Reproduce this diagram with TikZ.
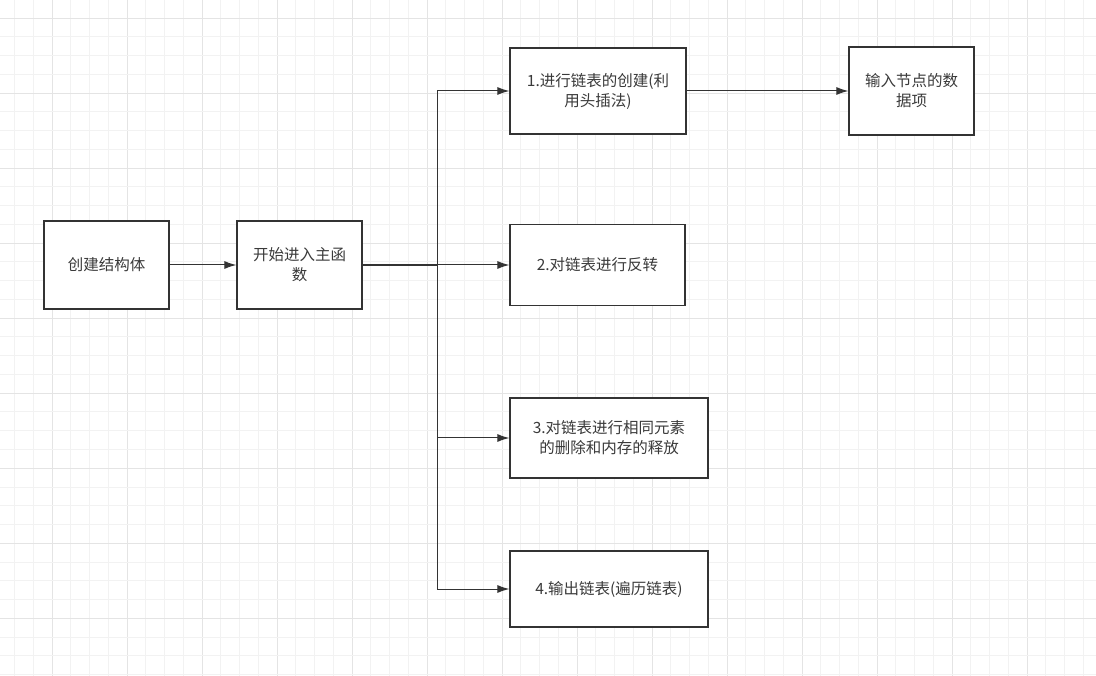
\documentclass[tikz,border=0pt]{standalone}
\usepackage{fontspec}
\setmainfont{Noto Sans CJK SC}
\usetikzlibrary{arrows.meta,positioning}
\definecolor{ink}{HTML}{333333}
\definecolor{txt}{HTML}{3A3A3A}
\definecolor{gminor}{HTML}{F2F2F2}
\definecolor{gmajor}{HTML}{E4E4E4}

\begin{document}
\begin{tikzpicture}[
  x=1pt, y=-1pt, >={Latex[length=12pt,width=8pt]},
  box/.style={draw=ink, line width=1.2pt, fill=white, align=center, text=txt,
    font=\fontsize{15.5}{20}\selectfont, inner sep=2pt},
  e/.style={->, line width=1pt, draw=ink}
]
\useasboundingbox (0,0) rectangle (1096,676);
% grid
\foreach \i in {0,...,58} {
  \pgfmathsetmacro{\gx}{14.5+18.75*\i}
  \pgfmathtruncatemacro{\gm}{mod(\i+2,4)}
  \ifnum\gm=0 \draw[gmajor, line width=1pt] (\gx,0) -- (\gx,676);
  \else \draw[gminor, line width=1pt] (\gx,0) -- (\gx,676); \fi
}
\foreach \j in {0,...,35} {
  \pgfmathsetmacro{\gy}{18.25+18.75*\j}
  \pgfmathtruncatemacro{\gm}{mod(\j,4)}
  \ifnum\gm=0 \draw[gmajor, line width=1pt] (0,\gy) -- (1096,\gy);
  \else \draw[gminor, line width=1pt] (0,\gy) -- (1096,\gy); \fi
}
% nodes
\node[box, minimum width=125pt, minimum height=88pt] (st) at (106.5,265) {创建结构体};
\node[box, minimum width=125pt, minimum height=88pt] (mn) at (299.5,265) {开始进入主函\\数};
\node[box, minimum width=176pt, minimum height=86pt] (cr) at (598,91) {1.进行链表的创建(利\\用头插法)};
\node[box, minimum width=125pt, minimum height=88pt] (in) at (911.5,91) {输入节点的数\\据项};
\node[box, minimum width=175pt, minimum height=81pt] (rv) at (597.5,265) {2.对链表进行反转};
\node[box, minimum width=198pt, minimum height=80pt] (dl) at (609,438) {3.对链表进行相同元素\\的删除和内存的释放};
\node[box, minimum width=198pt, minimum height=76pt] (pr) at (609,589) {4.输出链表(遍历链表)};
\coordinate (j) at (437,265);
% edges
\draw[e] (st) -- (mn);
\draw[e, -, line width=1.5pt] (mn.east) -- (j);
\draw[e] (j) |- (cr.west);
\draw[e] (j) -- (rv.west);
\draw[e] (j) |- (dl.west);
\draw[e] (j) |- (pr.west);
\draw[e] (cr) -- (in);
\end{tikzpicture}
\end{document}
